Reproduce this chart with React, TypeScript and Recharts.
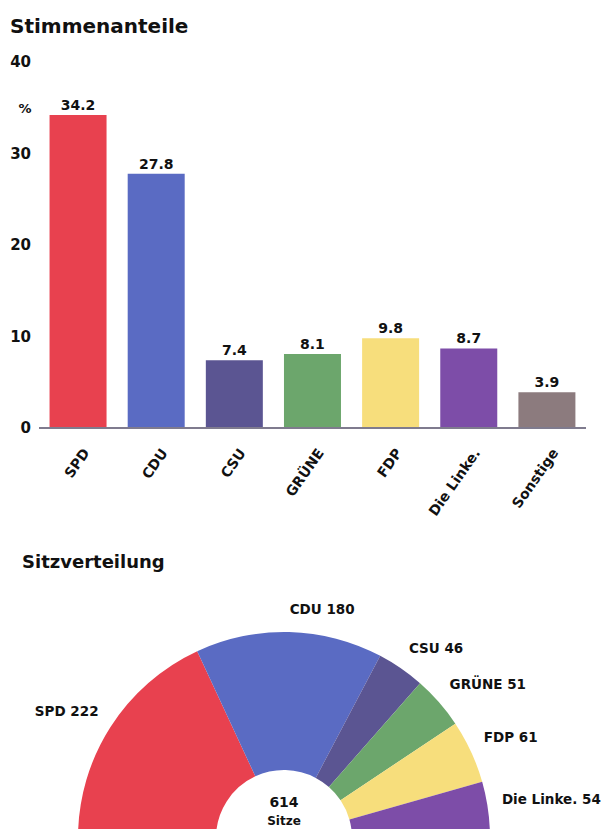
import { BarChart, Bar, XAxis, YAxis, Cell, LabelList, Label, PieChart, Pie } from 'recharts'

const parties = ['SPD', 'CDU', 'CSU', 'GRÜNE', 'FDP', 'Die Linke.', 'Sonstige']
const voteShares = [34.2, 27.8, 7.4, 8.1, 9.8, 8.7, 3.9]
const barColors = ['#e8414f', '#5a6bc3', '#5b5592', '#6ca66c', '#f7de7c', '#7d4da8', '#8c7b7e']
const yTicks = [0, 10, 20, 30, 40]

const seatParties = ['SPD', 'CDU', 'CSU', 'GRÜNE', 'FDP', 'Die Linke.']
const seats = [222, 180, 46, 51, 61, 54]
const seatColors = ['#e8414f', '#5a6bc3', '#5b5592', '#6ca66c', '#f7de7c', '#7d4da8']

const FONT = "'DejaVu Sans', sans-serif"
const INK = '#111'

const barData = parties.map((party, i) => ({ party, share: voteShares[i] }))
const pieData = seatParties.map((name, i) => ({ name, value: seats[i] }))
const totalSeats = seats.reduce((a, b) => a + b, 0)

const RAD = Math.PI / 180

function PartyTick({ x, y, payload }: any) {
  return (
    <g transform={`translate(${x + 8},${y + 14})`}>
      <text
        textAnchor="end"
        transform="rotate(-55)"
        dy="0.35em"
        fill={INK}
        fontSize={14}
        fontWeight="bold"
        fontFamily={FONT}
      >
        {payload.value}
      </text>
    </g>
  )
}

// labels sit just outside the ring, nudged a little upward like the original
function seatLabel({ cx, cy, midAngle, outerRadius, name, value }: any) {
  const r = outerRadius + 14
  const x = cx + r * Math.cos(-midAngle * RAD)
  const y = cy + r * Math.sin(-midAngle * RAD) - 9
  return (
    <text
      x={x}
      y={y}
      textAnchor={x >= cx ? 'start' : 'end'}
      dominantBaseline="central"
      fill={INK}
      fontSize={13.5}
      fontWeight="bold"
      fontFamily={FONT}
    >
      {`${name} ${value}`}
    </text>
  )
}

function CenterLabel({ viewBox }: any) {
  const { cx, cy } = viewBox
  return (
    <g fontFamily={FONT} fontWeight="bold" fill={INK} textAnchor="middle">
      <text x={cx} y={cy - 36} fontSize={14} dominantBaseline="central">
        {totalSeats}
      </text>
      <text x={cx} y={cy - 17} fontSize={12} dominantBaseline="central">
        Sitze
      </text>
    </g>
  )
}

function UnitLabel({ viewBox }: any) {
  return (
    <text
      x={viewBox.x + viewBox.width - 14}
      y={viewBox.y + 46}
      textAnchor="middle"
      dominantBaseline="central"
      fill={INK}
      fontSize={13}
      fontWeight="bold"
      fontFamily={FONT}
    >
      %
    </text>
  )
}

export default function App() {
  return (
    <div
      style={{
        position: 'absolute',
        left: 0,
        top: 0,
        width: 603,
        height: 829,
        overflow: 'hidden',
        background: '#fff',
        fontFamily: FONT,
      }}
    >
      <div style={{ position: 'absolute', left: 0, top: 0 }}>
        <BarChart
          width={603}
          height={520}
          data={barData}
          margin={{ top: 62, right: 17, bottom: 32, left: 0 }}
          barCategoryGap="13.5%"
        >
          <XAxis
            dataKey="party"
            interval={0}
            height={60}
            tickLine={false}
            axisLine={{ stroke: '#7f7b8e', strokeWidth: 2 }}
            tick={<PartyTick />}
          />
          <YAxis
            domain={[0, 40]}
            ticks={yTicks}
            width={39}
            axisLine={false}
            tickLine={false}
            tick={{ fill: INK, fontSize: 15, fontWeight: 'bold', fontFamily: FONT }}
          >
            <Label content={<UnitLabel />} />
          </YAxis>
          <Bar dataKey="share" isAnimationActive={false}>
            {barData.map((d, i) => (
              <Cell key={d.party} fill={barColors[i]} />
            ))}
            <LabelList
              dataKey="share"
              position="top"
              offset={5}
              fill={INK}
              fontSize={14}
              fontWeight="bold"
              fontFamily={FONT}
              formatter={(v: number) => v.toFixed(1)}
            />
          </Bar>
        </BarChart>
      </div>

      <div style={{ position: 'absolute', left: 0, top: 580 }}>
        <PieChart width={603} height={249}>
          <Pie
            data={pieData}
            dataKey="value"
            nameKey="name"
            cx={279}
            cy={253}
            startAngle={180}
            endAngle={0}
            innerRadius={68}
            outerRadius={206}
            stroke="none"
            label={seatLabel}
            labelLine={false}
            isAnimationActive={false}
          >
            {pieData.map((d, i) => (
              <Cell key={d.name} fill={seatColors[i]} />
            ))}
            <Label content={<CenterLabel />} />
          </Pie>
        </PieChart>
      </div>

      <div
        style={{
          position: 'absolute',
          left: 10,
          top: 16,
          fontSize: 20,
          lineHeight: '20px',
          fontWeight: 'bold',
          color: INK,
        }}
      >
        Stimmenanteile
      </div>
      <div
        style={{
          position: 'absolute',
          left: 22,
          top: 553,
          fontSize: 18,
          lineHeight: '18px',
          fontWeight: 'bold',
          color: INK,
        }}
      >
        Sitzverteilung
      </div>
    </div>
  )
}
